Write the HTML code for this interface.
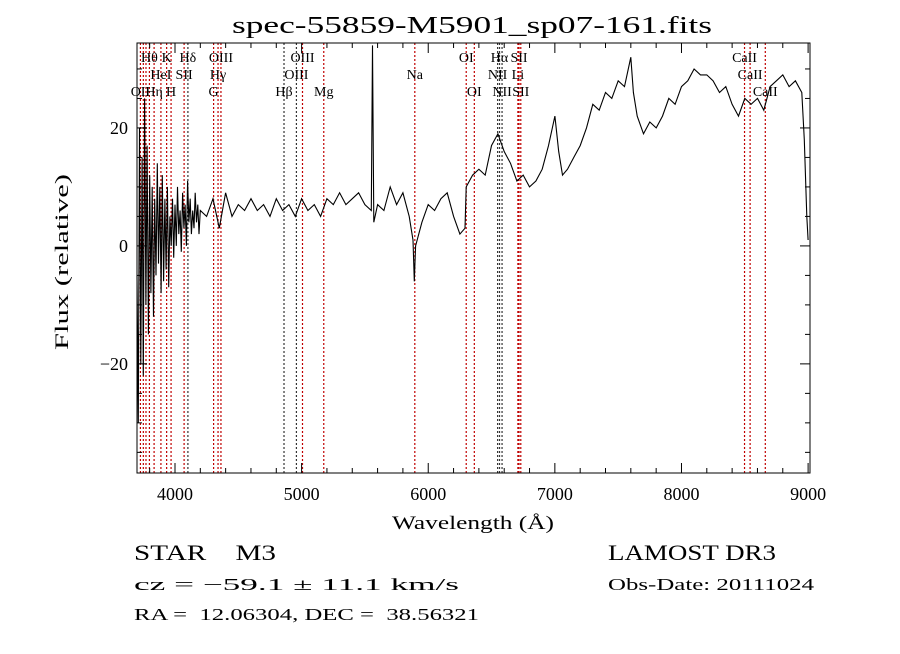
<!DOCTYPE html>
<html><head><meta charset="utf-8"><style>
body{margin:0;background:#fff;}
svg text{font-family:"Liberation Serif",serif;fill:#000;white-space:pre;}
</style></head><body>
<svg id="c" width="900" height="649" viewBox="0 0 900 649">
<rect width="900" height="649" fill="#fff"/>
<text x="472" y="33" font-size="24" text-anchor="middle" textLength="480" lengthAdjust="spacingAndGlyphs">spec-55859-M5901_sp07-161.fits</text>
<g id="lines"></g>
<g id="ticks"></g>
<path id="spec" fill="none" stroke="#000" stroke-width="1.1"/>
<rect x="137" y="43" width="673" height="430" fill="none" stroke="#000" stroke-width="1"/>
<text x="473" y="529" font-size="19" text-anchor="middle" textLength="162" lengthAdjust="spacingAndGlyphs">Wavelength (Å)</text>
<text transform="translate(68,262) rotate(-90)" font-size="19" text-anchor="middle" textLength="176" lengthAdjust="spacingAndGlyphs">Flux (relative)</text>
<text x="134" y="560" font-size="22" textLength="142" lengthAdjust="spacingAndGlyphs" xml:space="preserve">STAR    M3</text>
<text x="608" y="560" font-size="22" textLength="168" lengthAdjust="spacingAndGlyphs">LAMOST DR3</text>
<text x="134" y="590" font-size="17" textLength="325" lengthAdjust="spacingAndGlyphs">cz = −59.1 ± 11.1 km/s</text>
<text x="608" y="590" font-size="17" textLength="206" lengthAdjust="spacingAndGlyphs">Obs-Date: 20111024</text>
<text x="134" y="620" font-size="17" textLength="345" lengthAdjust="spacingAndGlyphs" xml:space="preserve">RA =  12.06304, DEC =  38.56321</text>
</svg>
<script>
const waves=[3700,3710,3720,3730,3740,3750,3760,3770,3780,3790,3800,3810,3820,3830,3840,3850,3860,3870,3880,3890,3900,3910,3920,3930,3940,3950,3960,3970,3980,3990,4000,4010,4020,4030,4040,4050,4060,4070,4080,4090,4100,4110,4120,4130,4140,4150,4160,4170,4180,4190,4200,
4250,4300,4350,4400,4450,4500,4550,4600,4650,4700,4750,4800,4850,4900,4950,5000,5050,5100,5150,5200,5250,5300,5350,5400,5450,5500,5550,5560,5570,5600,5650,5700,5750,5800,5850,5880,5890,5900,5950,6000,6050,6100,6150,6200,6250,6290,6300,6350,6400,6450,6500,6550,6600,6650,6700,6750,6800,6850,6900,6950,7000,7030,7060,7100,7150,7200,7250,7300,7350,7400,7450,7500,7550,7600,7620,7650,7700,7750,7800,7850,7900,7950,8000,8050,8100,8150,8200,8250,8300,8350,8400,8450,8500,8550,8600,8650,8700,8750,8800,8850,8900,8950,8970,8990,9000];
const flux=[-5,-30,20,-20,15,-22,25,-10,17,-15,12,-8,10,-12,8,-5,14,-3,10,-8,12,-6,8,-4,10,-7,5,0,8,-2,7,0,10,2,6,-1,9,3,7,0,11,4,8,2,6,3,9,4,7,2,6,
5,8,3,9,5,7,6,8,6,7,5,8,6,7,5,8,6,7,5,8,7,9,7,8,9,7,6,34,4,7,6,10,7,9,5,1,-6,0,4,7,6,8,9,5,2,3,10,12,13,12,17,19,16,14,11,12,10,11,13,17,22,16,12,13,15,17,20,24,23,26,25,28,27,32,26,22,19,21,20,22,25,24,27,28,30,29,29,28,26,27,24,22,25,24,25,23,27,28,29,27,28,26,18,5,1];
const lineWaves=[3727,3750,3771,3798,3835,3889,3934,3969,4072,4102,4305,4340,4363,4861,4959,5007,5175,5894,6300,6364,6548,6563,6583,6708,6717,6731,8498,8542,8662];
const lineBlack=[0,0,0,0,0,0,0,0,0,1,0,0,0,1,1,0,0,0,0,0,1,1,1,0,0,0,0,0,0];
const labelNames=["OII","Hθ","Hη","HeI","K","H","Hδ","SII","G","Hγ","OIII","Hβ","OIII","OIII","Mg","Na","OI","OI","NII","Hα","NII","Li","SII","SII","CaII","CaII","CaII"];
const labelWaves=[3727,3798,3835,3889,3934,3969,4102,4072,4305,4340,4363,4861,4959,5007,5175,5894,6300,6364,6548,6563,6583,6708,6717,6731,8498,8542,8662];
const labelRows=[2,0,2,1,0,2,0,1,2,1,0,2,1,0,2,1,0,2,1,0,2,1,0,2,0,1,2];
const xTicks=[4000,5000,6000,7000,8000,9000];
const yTicks=[-20,0,20];
const X0=137,X1=810,Y0=43,Y1=473,WMIN=3700,WMAX=9015,FMAX=34.4,FMIN=-38.5;
const sx=w=>X0+(w-WMIN)/(WMAX-WMIN)*(X1-X0);
const sy=f=>Y0+(FMAX-f)/(FMAX-FMIN)*(Y1-Y0);
const NS="http://www.w3.org/2000/svg";
function mk(t,a,p){const e=document.createElementNS(NS,t);for(const k in a)e.setAttribute(k,a[k]);p.appendChild(e);return e;}
const L=document.getElementById('lines'),T=document.getElementById('ticks');
lineWaves.forEach((w,i)=>{
 const e=mk('line',{x1:sx(w),x2:sx(w),y1:Y0,y2:Y1,stroke:lineBlack[i]?'#333':'#c00000','stroke-width':1.2,'stroke-dasharray':'2,2'},L);
 
 
});
labelNames.forEach((n,i)=>{
 const e=mk('text',{x:sx(labelWaves[i]),y:62+labelRows[i]*17,'font-size':14,'text-anchor':'middle'},L);
 e.textContent=n;
 
 
});
for(let w=3800;w<=9000;w+=200){const x=sx(w),maj=w%1000===0,len=maj?10:5;
 mk('line',{x1:x,x2:x,y1:Y1,y2:Y1-len,stroke:'#000'},T);mk('line',{x1:x,x2:x,y1:Y0,y2:Y0+len,stroke:'#000'},T);}
for(let f=-35;f<=30;f+=5){const y=sy(f),len=f%20===0?10:5;
 mk('line',{x1:X0,x2:X0+len,y1:y,y2:y,stroke:'#000'},T);mk('line',{x1:X1,x2:X1-len,y1:y,y2:y,stroke:'#000'},T);}
xTicks.forEach(w=>{const e=mk('text',{x:sx(w),y:500,'font-size':18,'text-anchor':'middle'},T);e.textContent=w;
 
 });
yTicks.forEach(f=>{const e=mk('text',{x:128,y:sy(f)+6,'font-size':18,'text-anchor':'end'},T);e.textContent=f<0?'−'+(-f):f;
 
 });
document.getElementById('spec').setAttribute('d',waves.map((w,i)=>(i?'L':'M')+sx(w).toFixed(1)+','+sy(flux[i]).toFixed(1)).join(''));
</script>
</body></html>
